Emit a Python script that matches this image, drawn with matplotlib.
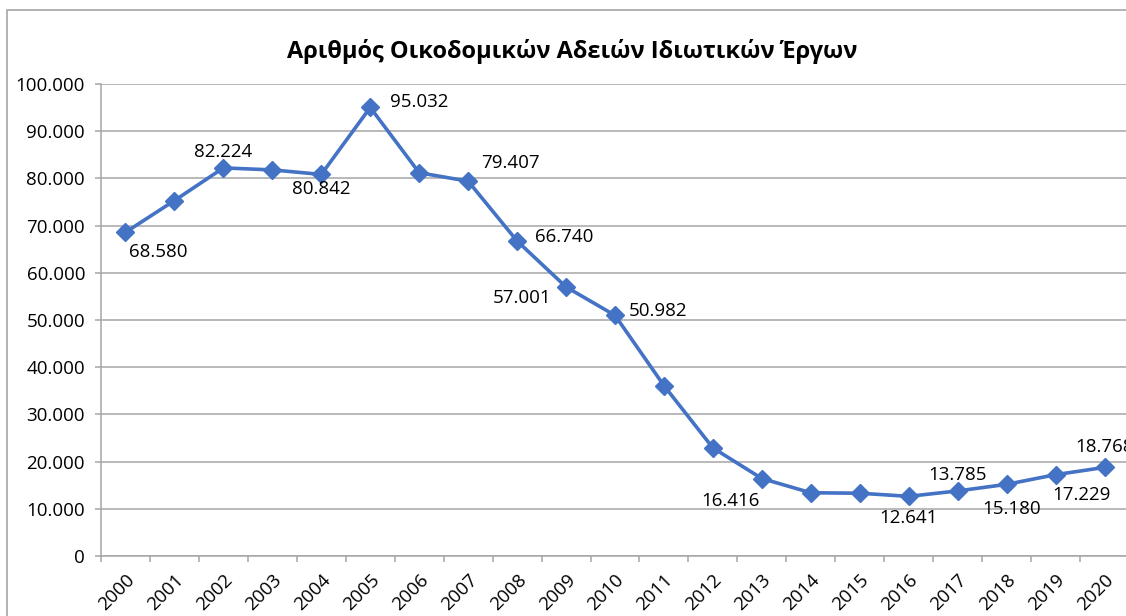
import matplotlib
matplotlib.use("Agg")
import matplotlib.pyplot as plt
from matplotlib.ticker import FuncFormatter, FixedLocator
from matplotlib.patches import Rectangle

plt.rcParams['font.family'] = ['Open Sans', 'DejaVu Sans']

# data
years = [str(y) for y in range(2000, 2021)]
permits = [68580, 75300, 82224, 81800, 80842, 95032, 81200, 79407, 66740, 57001,
           50982, 36100, 22900, 16416, 13400, 13300, 12641, 13785, 15180, 17229, 18768]
labelled = ['2000', '2002', '2004', '2005', '2007', '2008', '2009', '2010',
            '2013', '2016', '2017', '2018', '2019', '2020']

title = "Αριθμός Οικοδομικών Αδειών Ιδιωτικών Έργων"

# label placement (pixel offsets from marker, alignment)
label_pos = {
    '2000': (33, -20, 'center', 'center'),
    '2002': (0, 16, 'center', 'center'),
    '2004': (0, -15, 'center', 'center'),
    '2005': (20, 5, 'left', 'center'),
    '2007': (13, 18, 'left', 'center'),
    '2008': (18, 4, 'left', 'center'),
    '2009': (-15, -11, 'right', 'center'),
    '2010': (14, 4, 'left', 'center'),
    '2013': (-31, -22, 'center', 'center'),
    '2016': (0, -22, 'center', 'center'),
    '2017': (0, 16, 'center', 'center'),
    '2018': (5, -25, 'center', 'center'),
    '2019': (26, -20, 'center', 'center'),
    '2020': (0, 20, 'center', 'center'),
}

def thousands(v, pos=None):
    return f"{int(v):,}".replace(",", ".")

fig = plt.figure(figsize=(11.26, 6.16), dpi=100)
fig.patches.append(Rectangle((7 / 1126, -0.1), 1.2, 1 - 10 / 616 + 0.1,
                             transform=fig.transFigure, fill=False,
                             edgecolor='#A6A6A6', linewidth=1.2))

ax = fig.add_axes([101 / 1126, 1 - 556 / 616, (1129 - 101) / 1126, (556 - 84) / 616])
x = list(range(len(years)))
ax.plot(x, permits, color='#4472C4', linewidth=2.6, marker='D', markersize=9,
        zorder=3, clip_on=False)

for i, yr in enumerate(years):
    if yr in label_pos:
        dx, dy, ha, va = label_pos[yr]
        ax.annotate(thousands(permits[i]), (i, permits[i]), xytext=(dx, dy),
                    textcoords='offset pixels', ha=ha, va=va, fontsize=13.5,
                    color='#000000', zorder=4, annotation_clip=False)

ax.set_xlim(-0.5, len(years) - 0.5)
ax.set_ylim(0, 100000)
ax.set_yticks(range(0, 100001, 10000))
ax.yaxis.set_major_formatter(FuncFormatter(thousands))
ax.yaxis.grid(True, color='#A6A6A6', linewidth=1.1)
ax.set_axisbelow(True)

ax.set_xticks(x)
ax.set_xticklabels(years, rotation=45, ha='right', rotation_mode='anchor')
ax.xaxis.set_minor_locator(FixedLocator([i - 0.5 for i in range(len(years) + 1)]))
ax.tick_params(axis='x', which='major', length=0, pad=11, labelsize=13.5)
ax.tick_params(axis='x', which='minor', length=4.5, color='#A6A6A6', width=1.1)
ax.tick_params(axis='y', length=4.5, color='#A6A6A6', width=1.1, labelsize=13.5, pad=7)

for s in ['top', 'right']:
    ax.spines[s].set_visible(False)
for s in ['left', 'bottom']:
    ax.spines[s].set_color('#A6A6A6')
    ax.spines[s].set_linewidth(1.1)

fig.text(572 / 1126, 1 - 52 / 616, title, ha='center', va='center',
         fontsize=17, fontweight='bold')

fig.savefig("out.png", dpi=100)
